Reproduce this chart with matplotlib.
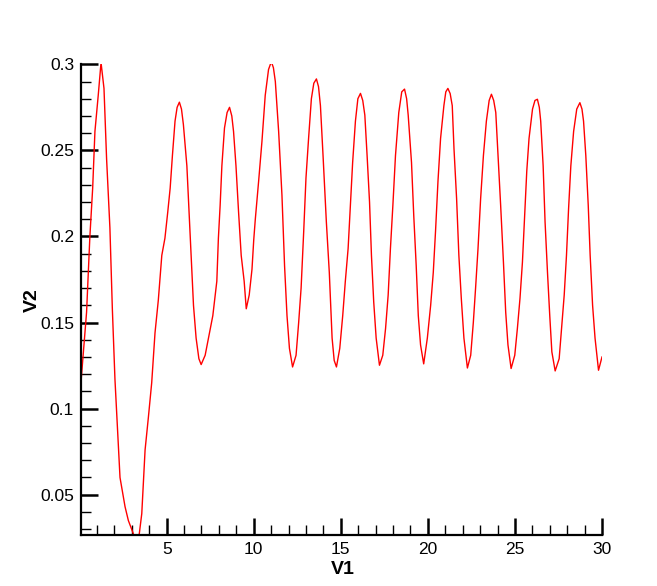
import matplotlib
matplotlib.use("Agg")
import matplotlib.pyplot as plt
from matplotlib.ticker import MultipleLocator, FormatStrFormatter

V1 = [
    0.10, 0.40, 0.59, 0.75, 0.88, 1.07, 1.23, 1.40, 1.55, 1.74, 1.88, 2.03,
    2.32, 2.61, 2.80, 3.08, 3.25, 3.43, 3.57, 3.76, 3.95, 4.14, 4.33, 4.52,
    4.72, 4.90, 5.06, 5.20, 5.33, 5.48, 5.60, 5.73, 5.85, 5.96, 6.16, 6.31,
    6.44, 6.54, 6.69, 6.85, 6.98, 7.21, 7.40, 7.65, 7.88, 7.97, 8.07, 8.17,
    8.32, 8.47, 8.61, 8.74, 8.84, 8.98, 9.13, 9.28, 9.45, 9.57, 9.74, 9.90,
    10.00, 10.09, 10.28, 10.47, 10.66, 10.85, 11.01, 11.13, 11.24, 11.43, 11.62, 11.77,
    11.91, 12.05, 12.23, 12.43, 12.58, 12.72, 12.87, 13.00, 13.15, 13.31, 13.45, 13.60,
    13.72, 13.83, 13.98, 14.17, 14.34, 14.50, 14.62, 14.75, 14.94, 15.11, 15.26, 15.42,
    15.55, 15.68, 15.84, 15.98, 16.13, 16.26, 16.38, 16.51, 16.65, 16.76, 16.89, 17.03,
    17.22, 17.41, 17.57, 17.72, 17.85, 17.99, 18.14, 18.33, 18.50, 18.66, 18.78, 18.87,
    19.06, 19.19, 19.33, 19.45, 19.58, 19.76, 19.97, 20.16, 20.31, 20.44, 20.58, 20.73,
    20.92, 21.03, 21.15, 21.28, 21.40, 21.50, 21.65, 21.78, 21.92, 22.07, 22.27, 22.46,
    22.61, 22.74, 22.88, 23.03, 23.19, 23.36, 23.52, 23.65, 23.78, 23.90, 24.03, 24.18,
    24.34, 24.47, 24.60, 24.78, 24.99, 25.14, 25.29, 25.43, 25.56, 25.68, 25.81, 26.01,
    26.15, 26.29, 26.40, 26.48, 26.62, 26.73, 26.87, 27.00, 27.12, 27.31, 27.54, 27.68,
    27.83, 27.96, 28.08, 28.21, 28.37, 28.55, 28.73, 28.85, 28.94, 29.07, 29.21, 29.32,
    29.46, 29.60, 29.80, 30.00,
]
V2 = [
    0.118, 0.156, 0.200, 0.228, 0.261, 0.282, 0.301, 0.286, 0.245, 0.205, 0.158, 0.117,
    0.060, 0.043, 0.035, 0.0275, 0.020, 0.0275, 0.039, 0.076, 0.095, 0.115, 0.144, 0.163,
    0.189, 0.199, 0.214, 0.228, 0.247, 0.267, 0.275, 0.278, 0.274, 0.265, 0.241, 0.209,
    0.181, 0.160, 0.141, 0.129, 0.1256, 0.131, 0.141, 0.154, 0.174, 0.199, 0.218, 0.241,
    0.263, 0.272, 0.275, 0.270, 0.261, 0.241, 0.214, 0.189, 0.174, 0.158, 0.166, 0.181,
    0.198, 0.210, 0.232, 0.255, 0.282, 0.297, 0.3015, 0.298, 0.290, 0.261, 0.224, 0.183,
    0.154, 0.135, 0.1242, 0.131, 0.150, 0.170, 0.203, 0.234, 0.257, 0.280, 0.289, 0.2915,
    0.287, 0.276, 0.247, 0.2085, 0.179, 0.141, 0.128, 0.1242, 0.135, 0.154, 0.174, 0.193,
    0.218, 0.243, 0.267, 0.280, 0.2831, 0.279, 0.2705, 0.247, 0.220, 0.189, 0.162, 0.141,
    0.1252, 0.131, 0.1465, 0.166, 0.193, 0.218, 0.247, 0.272, 0.284, 0.2856, 0.280, 0.2705,
    0.243, 0.212, 0.183, 0.154, 0.137, 0.126, 0.141, 0.160, 0.179, 0.203, 0.232, 0.257,
    0.276, 0.284, 0.286, 0.283, 0.276, 0.251, 0.222, 0.189, 0.164, 0.141, 0.1236, 0.131,
    0.150, 0.170, 0.193, 0.222, 0.247, 0.267, 0.279, 0.2826, 0.279, 0.272, 0.247, 0.218,
    0.185, 0.156, 0.137, 0.1233, 0.131, 0.1465, 0.164, 0.185, 0.212, 0.238, 0.257, 0.274,
    0.279, 0.2797, 0.275, 0.267, 0.241, 0.2085, 0.179, 0.154, 0.133, 0.1219, 0.129, 0.1465,
    0.166, 0.189, 0.216, 0.241, 0.261, 0.274, 0.2777, 0.274, 0.267, 0.247, 0.218, 0.189,
    0.160, 0.141, 0.1223, 0.130,
]

plt.rcParams["font.family"] = ["Liberation Sans", "DejaVu Sans"]

fig = plt.figure(figsize=(6.57, 5.86), dpi=100)
ax = fig.add_axes([81 / 657, 1 - 535 / 586, 521 / 657, (535 - 64.3) / 586])

ax.plot(V1, V2, color="red", lw=1.0)

ax.set_xlim(0.08, 30)
ax.set_ylim(0.0266, 0.3)

ax.spines["top"].set_visible(False)
ax.spines["right"].set_visible(False)
ax.spines["left"].set_linewidth(1.6)
ax.spines["bottom"].set_linewidth(1.6)

ax.xaxis.set_major_locator(MultipleLocator(5))
ax.xaxis.set_minor_locator(MultipleLocator(1))
ax.yaxis.set_major_locator(MultipleLocator(0.05))
ax.yaxis.set_minor_locator(MultipleLocator(0.01))
ax.yaxis.set_major_formatter(FormatStrFormatter("%g"))

ax.tick_params(which="major", direction="in", length=12, width=1.8,
               labelsize=12.5, pad=5)
ax.tick_params(which="minor", direction="in", length=7, width=1.0)

ax.set_xlabel("V1", fontsize=14, fontweight="bold", va="center")
ax.set_ylabel("V2", fontsize=14, fontweight="bold", va="center")
ax.xaxis.set_label_coords(0.503, -0.074)
ax.yaxis.set_label_coords(-0.093, 0.499)

fig.savefig("out.png", dpi=100)
